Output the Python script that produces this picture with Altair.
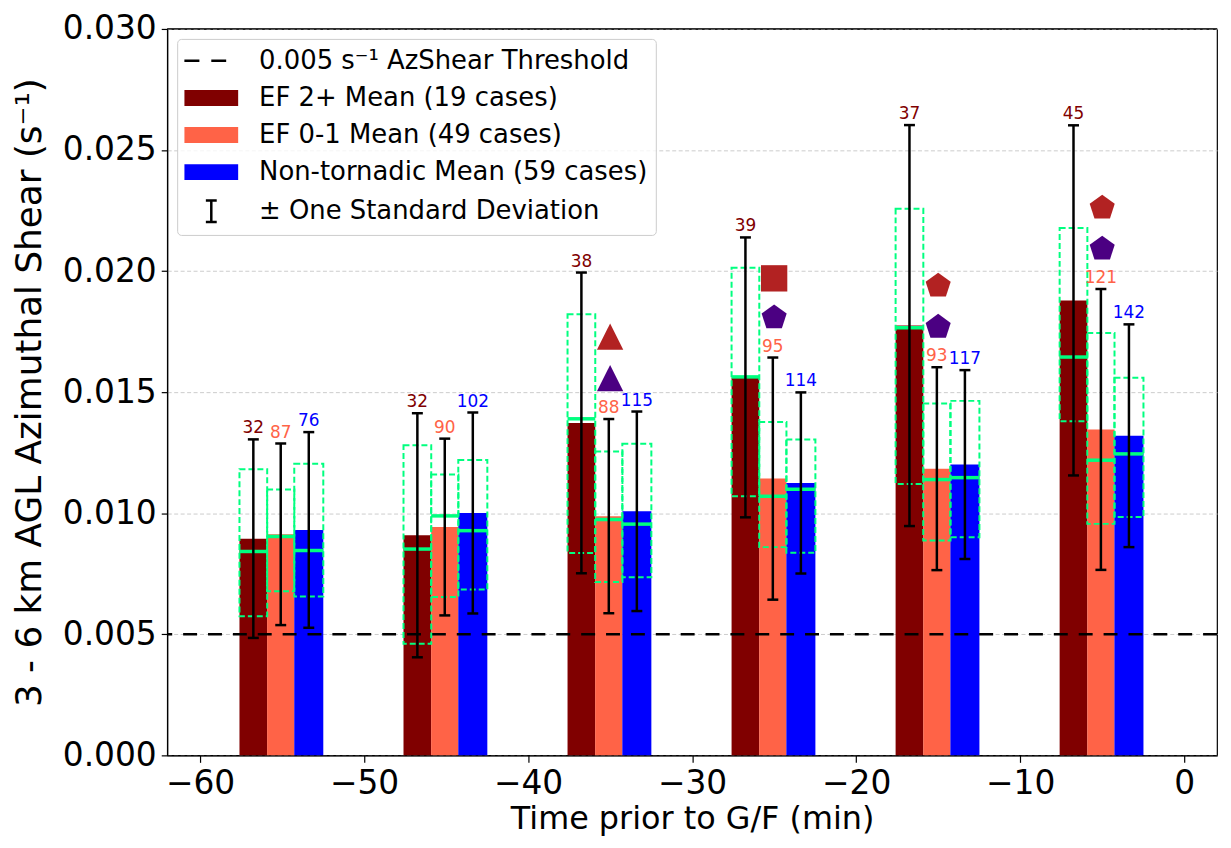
import altair as alt
import pandas as pd

# ---------------- data ----------------
times = [-55, -45, -35, -25, -15, -5]
series_names = ["EF 2+", "EF 0-1", "Non-tornadic"]
series_colors = ["#800000", "#FF6347", "#0000FF"]

ef2_mean = [0.00895, 0.00909, 0.01373, 0.01561, 0.01775, 0.01879]
ef2_std = [0.00410, 0.00504, 0.00621, 0.00578, 0.00828, 0.00723]
ef2_q1 = [0.00575, 0.00461, 0.00836, 0.01070, 0.01121, 0.01380]
ef2_q3 = [0.01182, 0.01281, 0.01822, 0.02014, 0.02257, 0.02178]
ef2_med = [0.00842, 0.00852, 0.01390, 0.01563, 0.01766, 0.01645]
ef2_n = [32, 32, 38, 39, 37, 45]

ef01_mean = [0.00913, 0.00943, 0.00988, 0.01143, 0.01184, 0.01346]
ef01_std = [0.00375, 0.00365, 0.00401, 0.00500, 0.00419, 0.00580]
ef01_q1 = [0.00678, 0.00654, 0.00716, 0.00860, 0.00887, 0.00956]
ef01_q3 = [0.01098, 0.01160, 0.01255, 0.01377, 0.01453, 0.01744]
ef01_med = [0.00904, 0.00989, 0.00974, 0.01070, 0.01139, 0.01219]
ef01_n = [87, 90, 88, 95, 93, 121]

nt_mean = [0.00931, 0.01001, 0.01008, 0.01125, 0.01201, 0.01320]
nt_std = [0.00404, 0.00415, 0.00412, 0.00374, 0.00390, 0.00460]
nt_q1 = [0.00656, 0.00685, 0.00736, 0.00837, 0.00901, 0.00984]
nt_q3 = [0.01204, 0.01220, 0.01287, 0.01304, 0.01464, 0.01559]
nt_med = [0.00846, 0.00928, 0.00955, 0.01099, 0.01147, 0.01245]
nt_n = [76, 102, 115, 114, 117, 142]

threshold = [0.005]
y_max = [0.03]

marker_times = [-35, -25, -15, -5]
red_marker_y = [0.01729, 0.01970, 0.01939, 0.02261]
red_marker_shape = ["tri", "sq", "pent", "pent"]
purple_marker_y = [0.01558, 0.01808, 0.01769, 0.02092]
purple_marker_shape = ["tri", "pent", "pent", "pent"]

legend_labels = [
    "0.005 s\u207b\u00b9 AzShear Threshold",
    "EF 2+ Mean (19 cases)",
    "EF 0-1 Mean (49 cases)",
    "Non-tornadic Mean (59 cases)",
    "\u00b1 One Standard Deviation",
]
legend_colors = ["#000000", "#800000", "#FF6347", "#0000FF", "#000000"]

# ---------------- layout constants ----------------
offsets = [-1.75, -0.08, 1.63]
half_w = [0.845, 0.83, 0.885]
GREEN = "#00FF7F"
FONT = "DejaVu Sans"

rows = []
for k, (name, mean, std, q1, q3, med, n) in enumerate([
    (series_names[0], ef2_mean, ef2_std, ef2_q1, ef2_q3, ef2_med, ef2_n),
    (series_names[1], ef01_mean, ef01_std, ef01_q1, ef01_q3, ef01_med, ef01_n),
    (series_names[2], nt_mean, nt_std, nt_q1, nt_q3, nt_med, nt_n),
]):
    for i, t in enumerate(times):
        c = t + offsets[k]
        rows.append(dict(series=name, xc=c, x0=c - half_w[k], x1=c + half_w[k],
                         mean=mean[i], lo=mean[i] - std[i], hi=mean[i] + std[i],
                         q1=q1[i], q3=q3[i], med=med[i], n=n[i]))
df = pd.DataFrame(rows)

mk = pd.DataFrame(
    [dict(t=t, y=y, shape=s, grp="red") for t, y, s in zip(marker_times, red_marker_y, red_marker_shape)]
    + [dict(t=t, y=y, shape=s, grp="purple") for t, y, s in zip(marker_times, purple_marker_y, purple_marker_shape)]
)

xs = alt.Scale(domain=[-62, 2], nice=False, zero=False)
ys = alt.Scale(domain=[0, 0.03], nice=False, zero=False)
color_scale = alt.Scale(domain=series_names, range=series_colors)

xaxis = alt.Axis(values=[-60, -50, -40, -30, -20, -10, 0], format="d", grid=False,
                 title="Time prior to G/F (min)", tickSize=7, labelPadding=5,
                 titleFontSize=32, titleBaseline="alphabetic", titleY=74)
yaxis = alt.Axis(values=[0, 0.005, 0.01, 0.015, 0.02, 0.025, 0.03], format=".3f",
                 grid=True, gridDash=[4, 2.5], gridColor="#cccccc", gridWidth=1,
                 title="3 - 6 km AGL Azimuthal Shear (s\u207b\u00b9)", tickSize=6,
                 labelPadding=5, titleFontSize=36, titleBaseline="alphabetic", titleX=-127)

base = alt.Chart(df)

bars = base.mark_rect().encode(
    x=alt.X("x0:Q", scale=xs, axis=xaxis),
    x2="x1:Q",
    y=alt.Y("mean:Q", scale=ys, axis=yaxis),
    y2=alt.datum(0),
    color=alt.Color("series:N", scale=color_scale, legend=None),
)

top_spine = alt.Chart(pd.DataFrame({"y": y_max})).mark_rule(color="black", strokeWidth=1.2).encode(
    y=alt.Y("y:Q", scale=ys)
)

thr = alt.Chart(pd.DataFrame({"y": threshold})).mark_rule(
    color="black", strokeDash=[14, 11], strokeWidth=2.5
).encode(y=alt.Y("y:Q", scale=ys))

boxes = base.mark_rect(fillOpacity=0, stroke=GREEN, strokeDash=[6, 3], strokeWidth=2).encode(
    x=alt.X("x0:Q", scale=xs), x2="x1:Q", y=alt.Y("q1:Q", scale=ys), y2="q3:Q"
)

medians = base.mark_rule(color=GREEN, strokeWidth=3.5).encode(
    x=alt.X("x0:Q", scale=xs), x2="x1:Q", y=alt.Y("med:Q", scale=ys)
)

err = base.mark_rule(color="black", strokeWidth=2.5).encode(
    x=alt.X("xc:Q", scale=xs), y=alt.Y("lo:Q", scale=ys), y2="hi:Q"
)
cap_lo = base.mark_tick(orient="horizontal", size=11, thickness=2.5, color="black", opacity=1).encode(
    x=alt.X("xc:Q", scale=xs), y=alt.Y("lo:Q", scale=ys)
)
cap_hi = base.mark_tick(orient="horizontal", size=11, thickness=2.5, color="black", opacity=1).encode(
    x=alt.X("xc:Q", scale=xs), y=alt.Y("hi:Q", scale=ys)
)

labels = base.mark_text(fontSize=17, baseline="bottom", dy=-2, align="center", font=FONT).encode(
    x=alt.X("xc:Q", scale=xs), y=alt.Y("hi:Q", scale=ys), text="n:Q",
    color=alt.Color("series:N", scale=color_scale, legend=None),
)

PENT = "M0,-1L0.951,-0.309L0.588,0.809L-0.588,0.809L-0.951,-0.309Z"
TRI = "M0,-1L1,1L-1,1Z"
SQ = "M-1,-1H1V1H-1Z"
shape_scale = alt.Scale(domain=["tri", "sq", "pent"], range=[TRI, SQ, PENT])

markers = alt.Chart(mk).mark_point(filled=True, opacity=1, size=700, strokeWidth=0).encode(
    x=alt.X("t:Q", scale=xs), y=alt.Y("y:Q", scale=ys),
    shape=alt.Shape("shape:N", scale=shape_scale, legend=None),
    color=alt.Color("grp:N", scale=alt.Scale(domain=["red", "purple"], range=["#B22222", "#4B0082"]), legend=None),
)

# legend symbols (drawn by the legend only): stroked paths
DASH = "M-2.08,0H-0.92M0,0H1.15"
RECT = "".join("M-2.077,%.3fH2.077" % (-0.52 + 0.08 * j) for j in range(14))
IBEAM = "M-0.42,-0.83H0.42M0,-0.83V0.83M-0.42,0.83H0.42"
leg = alt.Legend(title=None)
legend_layer = alt.Chart(pd.DataFrame({"legend": legend_labels})).mark_point(
    filled=False, opacity=1, size=676, strokeWidth=2.5
).encode(
    x=alt.value(-2000), y=alt.value(-2000),
    color=alt.Color("legend:N", scale=alt.Scale(domain=legend_labels, range=legend_colors), legend=leg),
    shape=alt.Shape("legend:N", scale=alt.Scale(domain=legend_labels, range=[DASH, RECT, RECT, RECT, IBEAM]), legend=leg),
)

chart = alt.layer(
    bars, top_spine, thr, boxes, medians, err, cap_lo, cap_hi, labels, markers, legend_layer
).resolve_scale(
    color="independent", shape="independent"
).properties(
    width=1055, height=730,
    autosize=alt.AutoSizeParams(type="none"),
    padding={"left": 160, "top": 19, "right": 6, "bottom": 82},
).configure(
    font=FONT,
).configure_view(
    stroke="black", strokeWidth=1.2
).configure_axis(
    labelFont=FONT, titleFont=FONT, labelFontSize=33, labelColor="black",
    titleColor="black", titleFontWeight="normal", domainColor="black",
    domainWidth=1.2, tickColor="black", tickWidth=1.2,
).configure_legend(
    orient="top-left", offset=10, padding=7.5, rowPadding=9.3,
    labelFont=FONT, labelFontSize=26, labelColor="black", labelOffset=33.5,
    symbolOffset=12.3, symbolSize=676, symbolStrokeWidth=2.5, symbolOpacity=1,
    fillColor="rgba(255,255,255,0.8)", strokeColor="#cccccc", cornerRadius=4,
    labelLimit=600,
)

chart.save("out.html", embed_options={"renderer": "svg", "actions": False})
